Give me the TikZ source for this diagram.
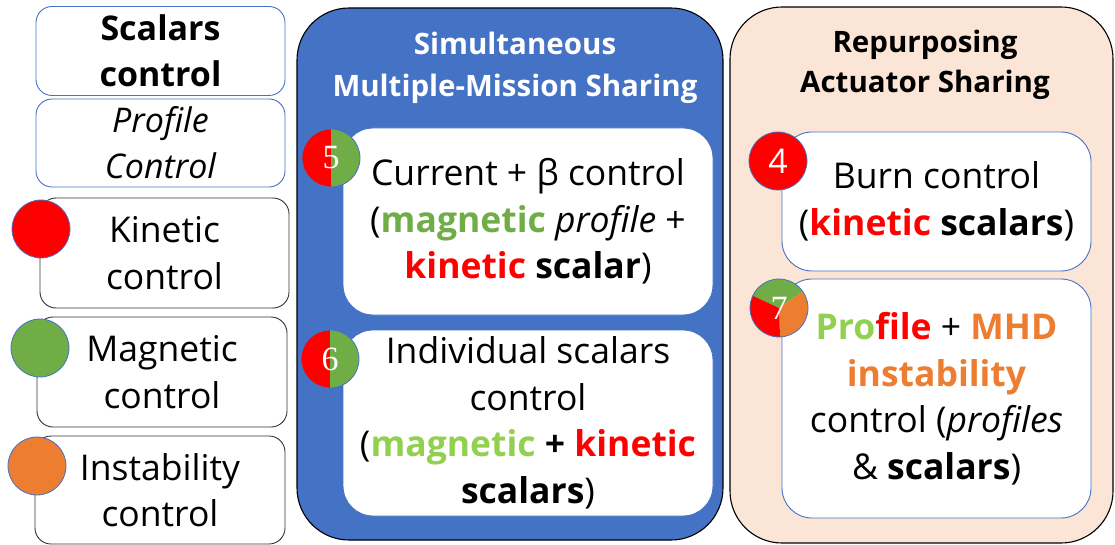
\documentclass[tikz,border=0pt]{standalone}
\usepackage{fontspec}
\setmainfont{Open Sans}
\newfontfamily\numserif{Liberation Serif}
\definecolor{kred}{HTML}{FF0000}
\definecolor{mgreen}{HTML}{70AD47}
\definecolor{lgreen}{HTML}{92D050}
\definecolor{iorange}{HTML}{ED7D31}
\definecolor{sblue}{HTML}{4472C4}
\definecolor{peach}{HTML}{FBE5D6}
\tikzset{
  body/.style={font=\fontsize{35.5}{46.5}\selectfont, align=center, inner sep=0pt},
  legendbox/.style={body, draw=black!80, line width=0.9pt, rounded corners=16pt},
  kindbox/.style={body, draw=sblue, line width=0.9pt, rounded corners=16pt},
  taskbox/.style={body, draw=sblue, fill=white, line width=0.9pt, rounded corners=30pt},
  groupbox/.style={draw=black, line width=1.1pt, rounded corners=52pt},
  grouptitle/.style={font=\fontsize{29.5}{42}\selectfont\bfseries, align=center, inner sep=0pt},
  dot/.style={circle, draw=sblue, line width=0.8pt, minimum size=58pt, inner sep=0pt,
    text=white, font=\fontsize{34}{34}\selectfont},
}
\begin{document}
\begin{tikzpicture}[x=1pt,y=-1pt]
\useasboundingbox (0,0) rectangle (1115,545);

% legend column
\node[kindbox, minimum width=249pt, minimum height=89pt,
  font=\fontsize{34}{46}\selectfont\bfseries] (scal) at (160.5,51) {Scalars\\control};
\node[kindbox, minimum width=249pt, minimum height=88pt,
  font=\fontsize{34}{46}\selectfont\itshape] (prof) at (160.5,143) {Profile\\Control};
\node[legendbox, minimum width=249pt, minimum height=110pt] (kin) at (164.5,253) {Kinetic\\control};
\node[legendbox, minimum width=250pt, minimum height=110pt] (mag) at (162,372) {Magnetic\\control};
\node[legendbox, minimum width=250pt, minimum height=108pt] (ins) at (160,490) {Instability\\control};
\node[dot, fill=kred] (kdot) at (41,229) {};
\node[dot, fill=mgreen] (mdot) at (40,348) {};
\node[dot, fill=iorange] (idot) at (37,466) {};

% simultaneous multiple-mission sharing
\node[groupbox, fill=sblue, minimum width=426pt, minimum height=532pt] (sim) at (510,274) {};
\node[grouptitle, text=white] (simt) at (515,68) {Simultaneous\\Multiple-Mission Sharing};
\node[taskbox, minimum width=370pt, minimum height=187pt] (t5) at (528,221.5)
  {Current + β control\\(\textcolor{mgreen}{\bfseries magnetic} \textit{profile} +\\\textcolor{kred}{\bfseries kinetic} \textbf{scalar})};
\node[taskbox, minimum width=370pt, minimum height=186pt] (t6) at (528,423)
  {Individual scalars\\control\\(\textcolor{lgreen}{\bfseries magnetic} \textbf{+} \textcolor{kred}{\bfseries kinetic}\\\textbf{scalars})};
\node[dot, path picture={
    \fill[mgreen] (path picture bounding box.south west) rectangle (path picture bounding box.north east);
    \fill[kred] (path picture bounding box.south west) rectangle (path picture bounding box.north);}]
  (d5) at (331,158) {\numserif 5};
\node[dot, path picture={
    \fill[mgreen] (path picture bounding box.south west) rectangle (path picture bounding box.north east);
    \fill[kred] (path picture bounding box.south west) rectangle (path picture bounding box.north);}]
  (d6) at (330,359) {\numserif 6};

% repurposing actuator sharing
\node[groupbox, fill=peach, minimum width=383pt, minimum height=536pt] (rep) at (921.5,275) {};
\node[grouptitle, text=black, font=\fontsize{29.5}{40}\selectfont\bfseries] (rept) at (925,65) {Repurposing\\Actuator Sharing};
\node[taskbox, minimum width=309pt, minimum height=139pt] (t4) at (936.5,201.5)
  {Burn control\\(\textcolor{kred}{\bfseries kinetic} \textbf{scalars})};
\node[taskbox, minimum width=309pt, minimum height=239pt] (t7) at (936.5,398.5)
  {\textcolor{lgreen}{\bfseries Pro}\textcolor{kred}{\bfseries file} + \textcolor{iorange}{\bfseries MHD}\\\textcolor{iorange}{\bfseries instability}\\control (\textit{profiles}\\\& \textbf{scalars})};
\node[dot, fill=kred] (d4) at (778,161) {4};
\node[dot, path picture={
    \coordinate (pc) at (path picture bounding box.center);
    \fill[mgreen] (pc) -- ++(-155:31) arc (-155:-35:31) -- cycle;
    \fill[iorange] (pc) -- ++(-35:31) arc (-35:88:31) -- cycle;
    \fill[kred] (pc) -- ++(88:31) arc (88:205:31) -- cycle;}]
  (d7) at (779,308) {\numserif 7};
\end{tikzpicture}
\end{document}
